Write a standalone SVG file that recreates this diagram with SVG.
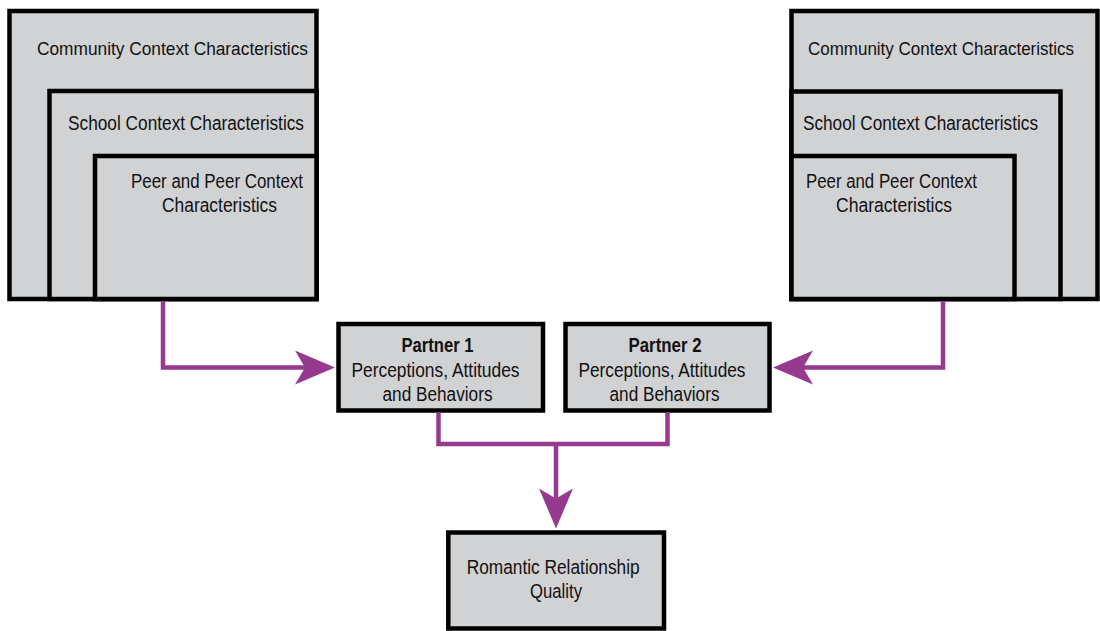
<svg xmlns="http://www.w3.org/2000/svg" width="1100" height="631" viewBox="0 0 1100 631">
<style>
.box{fill:#d1d2d4;stroke:#000;stroke-width:4.5}
.t{font-family:"Liberation Sans Narrow","Liberation Sans",Arial,sans-serif;font-size:19.5px;fill:#111}
.s{font-size:18px}
.b{font-weight:bold}
.c{fill:none;stroke:#953a8e;stroke-width:4.5;stroke-linejoin:miter}
</style>
<defs>
<marker id="ah" markerUnits="userSpaceOnUse" markerWidth="42" markerHeight="36" viewBox="0 0 42 36" refX="10" refY="17" orient="auto">
<path d="M0,0 L40,17 L0,34 L10,17 Z" fill="#953a8e"/>
</marker>
</defs>
<rect width="1100" height="631" fill="#fff"/>
<g id="left-context">
<rect class="box" x="9.5" y="11" width="307" height="288"/>
<rect class="box" x="49.5" y="91" width="267" height="208"/>
<rect class="box" x="95" y="156" width="221.5" height="143"/>
<text class="t s" x="37" y="55" textLength="271" lengthAdjust="spacingAndGlyphs">Community Context Characteristics</text>
<text class="t" x="68" y="130" textLength="236" lengthAdjust="spacingAndGlyphs">School Context Characteristics</text>
<text class="t" x="131" y="188" textLength="172" lengthAdjust="spacingAndGlyphs">Peer and Peer Context</text>
<text class="t" x="162" y="212" textLength="115" lengthAdjust="spacingAndGlyphs">Characteristics</text>
</g>
<g id="right-context">
<rect class="box" x="791.5" y="11" width="306" height="288"/>
<rect class="box" x="791.5" y="91.5" width="269" height="207.5"/>
<rect class="box" x="791.5" y="156" width="223" height="143"/>
<text class="t s" x="808" y="55" textLength="266" lengthAdjust="spacingAndGlyphs">Community Context Characteristics</text>
<text class="t" x="803" y="130" textLength="235" lengthAdjust="spacingAndGlyphs">School Context Characteristics</text>
<text class="t" x="806" y="188" textLength="171" lengthAdjust="spacingAndGlyphs">Peer and Peer Context</text>
<text class="t" x="836" y="212" textLength="116" lengthAdjust="spacingAndGlyphs">Characteristics</text>
</g>
<g id="partner1">
<rect class="box" x="338.5" y="324" width="204.5" height="86.5"/>
<text class="t b" x="401.5" y="351.5" textLength="72" lengthAdjust="spacingAndGlyphs">Partner 1</text>
<text class="t" x="351.5" y="376.5" textLength="168" lengthAdjust="spacingAndGlyphs">Perceptions, Attitudes</text>
<text class="t" x="382.5" y="401" textLength="110" lengthAdjust="spacingAndGlyphs">and Behaviors</text>
</g>
<g id="partner2">
<rect class="box" x="565.5" y="324" width="204" height="86.5"/>
<text class="t b" x="628.5" y="351.5" textLength="73" lengthAdjust="spacingAndGlyphs">Partner 2</text>
<text class="t" x="578.5" y="376.5" textLength="167" lengthAdjust="spacingAndGlyphs">Perceptions, Attitudes</text>
<text class="t" x="609.5" y="401" textLength="110" lengthAdjust="spacingAndGlyphs">and Behaviors</text>
</g>
<g id="quality">
<rect class="box" x="448.3" y="532.5" width="215.7" height="96"/>
<text class="t" x="466.7" y="573.5" textLength="173" lengthAdjust="spacingAndGlyphs">Romantic Relationship</text>
<text class="t" x="530" y="597.5" textLength="52" lengthAdjust="spacingAndGlyphs">Quality</text>
</g>
<g id="connectors">
<path class="c" d="M163,301 V367.5 H305" marker-end="url(#ah)"/>
<path class="c" d="M943,301 V367.5 H803" marker-end="url(#ah)"/>
<path class="c" d="M438.5,412.5 V444 H667.5 V412.5"/>
<path class="c" d="M556,444 V498.5" marker-end="url(#ah)"/>
</g>
</svg>
